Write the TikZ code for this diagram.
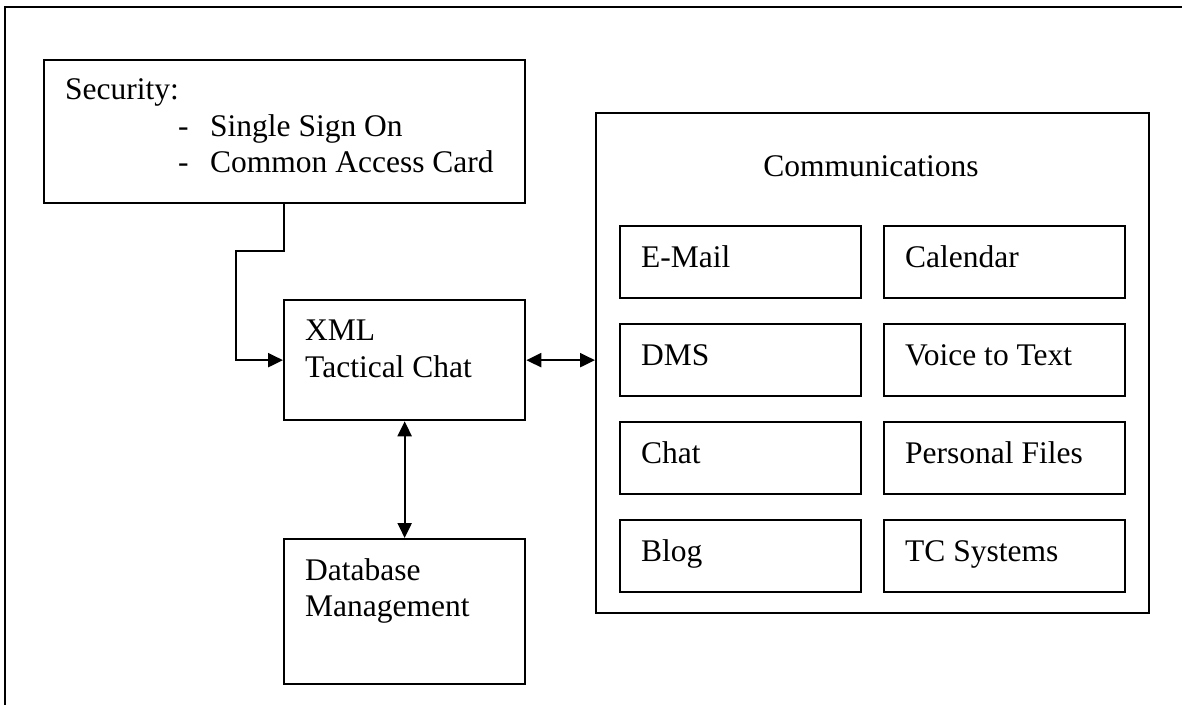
\documentclass[tikz,border=0pt]{standalone}
\usepackage{fontspec}
\setmainfont{Liberation Serif}
\usetikzlibrary{arrows.meta}
\begin{document}
\begin{tikzpicture}[x=1pt,y=-1pt,
  box/.style={draw,line width=2.3pt},
  lbl/.style={anchor=base west,inner sep=0pt,font=\fontsize{31.5}{36}\selectfont},
  conn/.style={line width=2.3pt},
  arr/.style={-{Triangle[length=15pt,width=14pt]}},
  darr/.style={{Triangle[length=15pt,width=14pt]}-{Triangle[length=15pt,width=14pt]}}]
\useasboundingbox (0,0) rectangle (1182,704);
\draw[line width=2.6pt] (5,710) -- (5,7) -- (1190,7);
% Security
\node[box,minimum width=481pt,minimum height=143pt,anchor=north west,inner sep=0pt] (sec) at (43,59) {};
\node[lbl] (sect) at (65,99) {Security:};
\node[lbl] (d1) at (178,136) {-};
\node[lbl] (s1) at (210,136) {Single Sign On};
\node[lbl] (d2) at (178,172) {-};
\node[lbl] (s2) at (210,172) {Common Access Card};
% XML
\node[box,minimum width=241pt,minimum height=120pt,anchor=north west,inner sep=0pt] (xml) at (283,299) {};
\node[lbl] (x1) at (305,340) {XML};
\node[lbl] (x2) at (305,377) {Tactical Chat};
% DB
\node[box,minimum width=241pt,minimum height=145pt,anchor=north west,inner sep=0pt] (db) at (283,538) {};
\node[lbl] (b1) at (305,580) {Database};
\node[lbl] (b2) at (305,616) {Management};
% Communications
\node[box,minimum width=553pt,minimum height=500pt,anchor=north west,inner sep=0pt] (com) at (595,112) {};
\node[anchor=base,inner sep=0pt,font=\fontsize{31.5}{36}\selectfont] (comt) at (871,176) {Communications};
\foreach \n/\t/\x/\y in {em/E-Mail/619/225, ca/Calendar/883/225, dm/DMS/619/323, vt/Voice to Text/883/323, ch/Chat/619/421, pf/Personal Files/883/421, bl/Blog/619/519, tc/TC Systems/883/519}{
  \node[box,minimum width=241pt,minimum height=72pt,anchor=north west,inner sep=0pt] (\n) at (\x,\y) {};
  \node[lbl] (\n t) at (\x+22,\y+42) {\t};
}
% connectors
\coordinate (c1) at (284,251);
\coordinate (c2) at (236,251);
\draw[conn,arr] (sec.south -| c1) -- (c1) -- (c2) -- (c2 |- xml.west) -- (xml.west);
\draw[conn,darr] (xml.east) -- (xml.east -| com.west);
\draw[conn,darr] (xml.south) -- (db.north);
\end{tikzpicture}
\end{document}
